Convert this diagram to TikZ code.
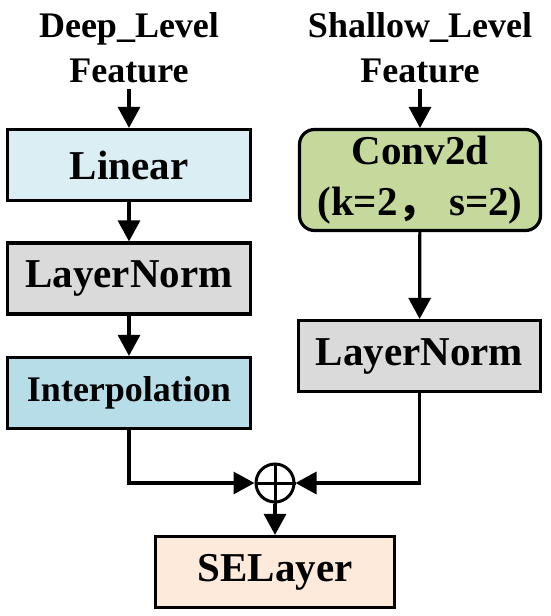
\documentclass[tikz,border=0pt]{standalone}
\usepackage{fontspec}
\setmainfont{Liberation Serif}
\newfontfamily\cjk{Noto Sans CJK SC}
\usetikzlibrary{arrows.meta,positioning}
\definecolor{BoxBlue}{HTML}{DBEEF4}
\definecolor{BoxCyan}{HTML}{B7DEE8}
\definecolor{BoxGrey}{HTML}{DADADA}
\definecolor{BoxGreen}{HTML}{C4D99B}
\definecolor{BoxPeach}{HTML}{FDEADA}

\begin{document}
\begin{tikzpicture}[x=1pt,y=-1pt,
  box/.style={draw,line width=3.2pt,minimum width=243pt,minimum height=71pt,inner sep=0pt,
    font=\fontsize{41}{51}\selectfont\bfseries,align=center},
  title/.style={inner sep=0pt,font=\fontsize{36}{45}\selectfont\bfseries,align=center},
  arr/.style={line width=3.2pt,-{Triangle[length=21pt,width=22pt]}}]
  \useasboundingbox (0,0) rectangle (550,616);

  % inputs
  \node[title] (deep) at (129,48) {Deep\_Level\\Feature};
  \node[title] (shallow) at (420,48) {Shallow\_Level\\Feature};

  % deep branch
  \node[box,fill=BoxBlue] (linear) at (129,165) {Linear};
  \node[box,fill=BoxGrey] (normA) at (129,278.5) {LayerNorm};
  \node[box,fill=BoxCyan,font=\fontsize{36}{44}\selectfont\bfseries] (interp) at (129,393) {Interpolation};

  % shallow branch
  \node[box,fill=BoxGreen,rounded corners=15pt,minimum width=241pt,minimum height=101pt] (conv) at (420,180) {Conv2d\\(k=2{\cjk ，} s=2)};
  \node[box,fill=BoxGrey,minimum width=242pt] (normB) at (419.5,356) {LayerNorm};

  % fusion
  \node[draw,circle,line width=3pt,minimum size=38pt,inner sep=0pt] (sum) at (275,483) {};
  \draw[line width=3pt] (sum.north) -- (sum.south) (sum.west) -- (sum.east);
  \node[box,fill=BoxPeach,minimum width=239pt] (se) at (275,572) {SELayer};

  \draw[arr,shorten <=6pt] (deep) -- (linear);
  \draw[arr] (linear) -- (normA);
  \draw[arr] (normA) -- (interp);
  \draw[arr,shorten <=6pt] (shallow) -- (conv);
  \draw[arr] (conv) -- (normB);
  \draw[arr] (interp.south) |- (sum.west);
  \draw[arr] (normB.south) |- (sum.east);
  \draw[arr] (sum) -- (se);
\end{tikzpicture}
\end{document}
